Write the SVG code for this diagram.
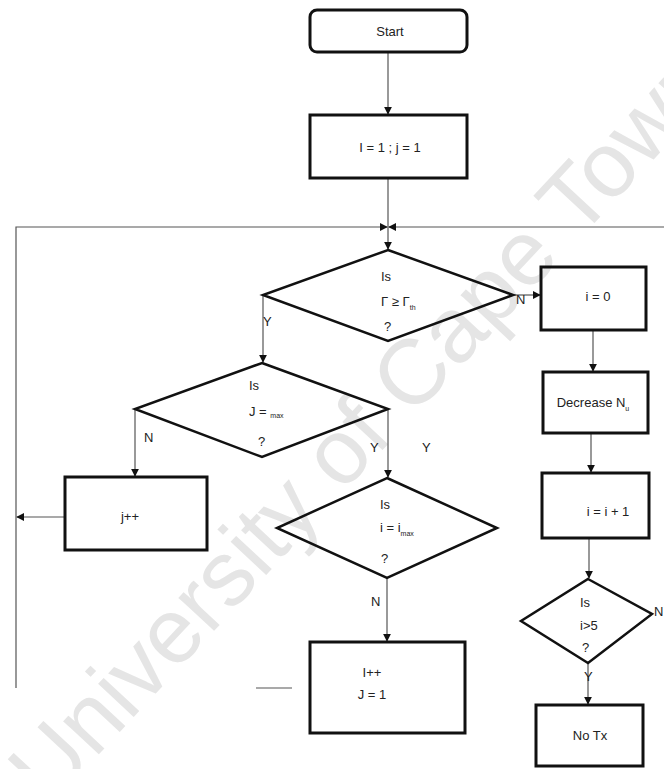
<svg xmlns="http://www.w3.org/2000/svg" width="664" height="769" viewBox="0 0 664 769">
  <style>
    .box { fill: none; stroke: #111111; stroke-width: 3; }
    .dia { fill: none; stroke: #111111; stroke-width: 2.5; stroke-linejoin: miter; }
    .lbl { font-family: "Liberation Sans", Arial, sans-serif; font-size: 13px; fill: #222222; }
    .sub { font-size: 7px; }
    .con { fill: none; stroke: #555555; stroke-width: 1.2; }
    .wm { font-family: "Liberation Sans", Arial, sans-serif; font-size: 92px; fill: #e5e5e5; }
  </style>
  <defs>
    <marker id="arr" viewBox="0 0 10 10" refX="9" refY="5" markerWidth="8" markerHeight="8" orient="auto" markerUnits="userSpaceOnUse">
      <path d="M0,0 L10,5 L0,10 Z" fill="#111111"/>
    </marker>
  </defs>

  <!-- background watermark -->
  <text class="wm" x="365" y="455" text-anchor="middle" transform="rotate(-47 365 425)">University of Cape Town</text>

  <!-- connectors -->
  <g id="connectors">
    <path class="con" d="M388,52 V114" marker-end="url(#arr)"/>
    <path class="con" d="M388,178 V249" marker-end="url(#arr)"/>
    <path class="con" d="M16,688 V227 H387" marker-end="url(#arr)"/>
    <path class="con" d="M664,227 H389" marker-end="url(#arr)"/>
    <path class="con" d="M513,295 H540" marker-end="url(#arr)"/>
    <path class="con" d="M593,330 V371" marker-end="url(#arr)"/>
    <path class="con" d="M591,433 V472" marker-end="url(#arr)"/>
    <path class="con" d="M589,538 V578" marker-end="url(#arr)"/>
    <path class="con" d="M588,663 V704" marker-end="url(#arr)"/>
    <path class="con" d="M263,295 V362" marker-end="url(#arr)"/>
    <path class="con" d="M135,409 V476" marker-end="url(#arr)"/>
    <path class="con" d="M65,517 H17" marker-end="url(#arr)"/>
    <path class="con" d="M388,409 V477" marker-end="url(#arr)"/>
    <path class="con" d="M387,578 V641" marker-end="url(#arr)"/>
    <path class="con" d="M256,688 H292" stroke="#aaaaaa"/>
  </g>

  <!-- edge labels -->
  <g id="edge-labels">
    <text class="lbl" x="263" y="326" font-size="11">Y</text>
    <text class="lbl" x="516" y="304" font-size="11">N</text>
    <text class="lbl" x="144" y="442" font-size="11">N</text>
    <text class="lbl" x="370" y="452" font-size="11">Y</text>
    <text class="lbl" x="422" y="452" font-size="11">Y</text>
    <text class="lbl" x="371" y="606" font-size="11">N</text>
    <text class="lbl" x="584" y="681" font-size="11">Y</text>
    <text class="lbl" x="654" y="616" font-size="11">N</text>
  </g>

  <g id="start">
    <rect class="box" x="310" y="10" width="157" height="42" rx="7"/>
    <text class="lbl" x="390" y="36" text-anchor="middle">Start</text>
  </g>

  <g id="init">
    <rect class="box" x="310" y="115" width="157" height="63"/>
    <text class="lbl" x="390" y="152" text-anchor="middle">I = 1 ; j = 1</text>
  </g>

  <g id="snr-check">
    <polygon class="dia" points="388,250 513,295 388,341 263,295"/>
    <text class="lbl" x="381" y="281">Is</text>
    <text class="lbl" x="381" y="306">Γ ≥ Γ<tspan class="sub" dy="4">th</tspan></text>
    <text class="lbl" x="384" y="331">?</text>
  </g>

  <g id="reset-i">
    <rect class="box" x="541" y="267" width="105" height="63"/>
    <text class="lbl" x="598" y="301" text-anchor="middle">i = 0</text>
  </g>

  <g id="decrease">
    <rect class="box" x="543" y="372" width="105" height="61"/>
    <text class="lbl" x="593" y="407" text-anchor="middle">Decrease N<tspan class="sub" dy="4">u</tspan></text>
  </g>

  <g id="inc-i">
    <rect class="box" x="542" y="473" width="107" height="65"/>
    <text class="lbl" x="608" y="516" text-anchor="middle">i = i + 1</text>
  </g>

  <g id="i-limit">
    <polygon class="dia" points="588,579 652,614 588,663 521,621"/>
    <text class="lbl" x="580" y="607">Is</text>
    <text class="lbl" x="580" y="630">i&gt;5</text>
    <text class="lbl" x="582" y="652">?</text>
  </g>

  <g id="no-tx">
    <rect class="box" x="536" y="705" width="107" height="61"/>
    <text class="lbl" x="590" y="740" text-anchor="middle">No Tx</text>
  </g>

  <g id="j-check">
    <polygon class="dia" points="262,363 388,409 262,457 135,409"/>
    <text class="lbl" x="249" y="390">Is</text>
    <text class="lbl" x="249" y="416">J = <tspan class="sub" dy="2">max</tspan></text>
    <text class="lbl" x="258" y="446" font-size="7">?</text>
  </g>

  <g id="inc-j">
    <rect class="box" x="65" y="477" width="142" height="73"/>
    <text class="lbl" x="130" y="521" text-anchor="middle">j++</text>
  </g>

  <g id="i-check">
    <polygon class="dia" points="387,478 497,528 387,578 277,528"/>
    <text class="lbl" x="380" y="509">Is</text>
    <text class="lbl" x="380" y="532">i = i<tspan class="sub" dy="4">max</tspan></text>
    <text class="lbl" x="381" y="563" font-size="7">?</text>
  </g>

  <g id="next-i">
    <rect class="box" x="310" y="642" width="155" height="91"/>
    <text class="lbl" x="372" y="677" text-anchor="middle">I++</text>
    <text class="lbl" x="372" y="699" text-anchor="middle">J = 1</text>
  </g>
</svg>
